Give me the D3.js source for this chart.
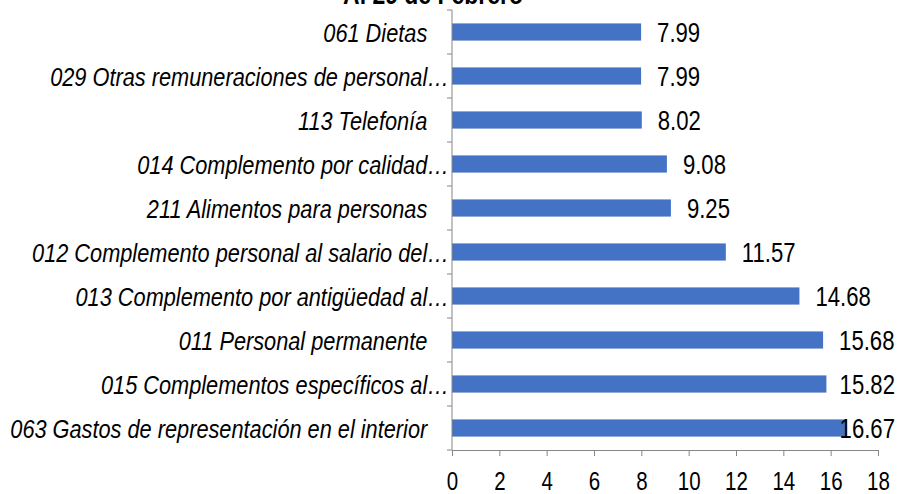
<!DOCTYPE html>
<html>
<head>
<meta charset="utf-8">
<script src="https://cdn.jsdelivr.net/npm/d3@7"></script>
<style>
  body { margin: 0; background: #fff; }
  svg { display: block; }
  text { font-family: "Liberation Sans Narrow", "Arial Narrow", "Liberation Sans", Arial, sans-serif; fill: #000; }
  .cat { font-style: italic; font-size: 25px; white-space: pre; }
  .val { font-size: 27px; }
  .axis text { font-size: 25px; }
  .axis path, .axis line { stroke: #868686; }
</style>
</head>
<body>
<div id="chart"></div>
<script>
// values, top to bottom
var categories = [
  "061 Dietas\u2002\u2002",
  "029 Otras remuneraciones de personal\u2026",
  "113 Telefonía\u2002\u2002",
  "014 Complemento por calidad\u2026",
  "211 Alimentos para personas\u2002\u2002",
  "012 Complemento personal al salario del\u2026",
  "013 Complemento por antigüedad al\u2026",
  "011 Personal permanente\u2002\u2002",
  "015 Complementos específicos al\u2026",
  "063 Gastos de representación en el interior\u2002\u2002"
];
var values = [7.99, 7.99, 8.02, 9.08, 9.25, 11.57, 14.68, 15.68, 15.82, 16.67];
var xTicks = [0, 2, 4, 6, 8, 10, 12, 14, 16, 18];
var title = "Al 29 de Febrero";

var width = 899,
    height = 494,
    margin = {top: 10, right: 21, bottom: 44, left: 452},
    narrow = 0.82,   // horizontal squeeze for numbers
    narrowCat = 0.87; // and for category names

var svg = d3.select("#chart").append("svg")
    .attr("width", width)
    .attr("height", height);

var x = d3.scaleLinear()
    .domain([0, 18])
    .range([margin.left, width - margin.right]);

var y = d3.scaleBand()
    .domain(categories)
    .range([margin.top, height - margin.bottom])
    .paddingInner(0.61)
    .paddingOuter(0.305);

svg.append("text")
    .attr("transform", "translate(433,4) scale(" + narrow + ",1)")
    .attr("text-anchor", "middle")
    .style("font-weight", "bold")
    .style("font-size", "28px")
    .text(title);

// bars
svg.selectAll("rect.bar")
    .data(values)
    .enter().append("rect")
    .attr("class", "bar")
    .attr("x", x(0))
    .attr("y", function(d, i) { return y(categories[i]); })
    .attr("width", function(d) { return x(d) - x(0); })
    .attr("height", y.bandwidth())
    .attr("fill", "#4472C4");

// x axis
var xAxis = svg.append("g")
    .attr("class", "axis")
    .attr("transform", "translate(0," + (height - margin.bottom) + ")")
    .call(d3.axisBottom(x).tickValues(xTicks).tickSizeInner(6).tickSizeOuter(0).tickPadding(16));
xAxis.selectAll("text").attr("transform", "scale(" + narrow + ",1)");

// y axis with ticks between categories
var yLine = svg.append("g").attr("class", "axis");
yLine.append("line")
    .attr("x1", x(0)).attr("x2", x(0))
    .attr("y1", margin.top).attr("y2", height - margin.bottom);
var step = y.step();
yLine.selectAll("line.tk")
    .data(d3.range(categories.length + 1))
    .enter().append("line")
    .attr("class", "tk")
    .attr("x1", x(0) - 5).attr("x2", x(0))
    .attr("y1", function(i) { return margin.top + i * step; })
    .attr("y2", function(i) { return margin.top + i * step; });

// category labels
svg.selectAll("text.cat")
    .data(categories)
    .enter().append("text")
    .attr("class", "cat")
    .attr("transform", function(d) {
        return "translate(" + (x(0) - 3) + "," + (y(d) + y.bandwidth() / 2 + 1) + ") scale(" + narrowCat + ",1)";
    })
    .attr("dy", "0.35em")
    .attr("text-anchor", "end")
    .text(function(d) { return d; });

// value labels
svg.selectAll("text.val")
    .data(values)
    .enter().append("text")
    .attr("class", "val")
    .attr("dy", "0.35em")
    .text(function(d) { return d.toFixed(2); })
    .attr("transform", function(d, i) {
        var w = this.getComputedTextLength() * narrow;
        var px = Math.min(x(d) + 16, width - 4 - w);
        return "translate(" + px + "," + (y(categories[i]) + y.bandwidth() / 2 + 1) + ") scale(" + narrow + ",1)";
    });
</script>
</body>
</html>
